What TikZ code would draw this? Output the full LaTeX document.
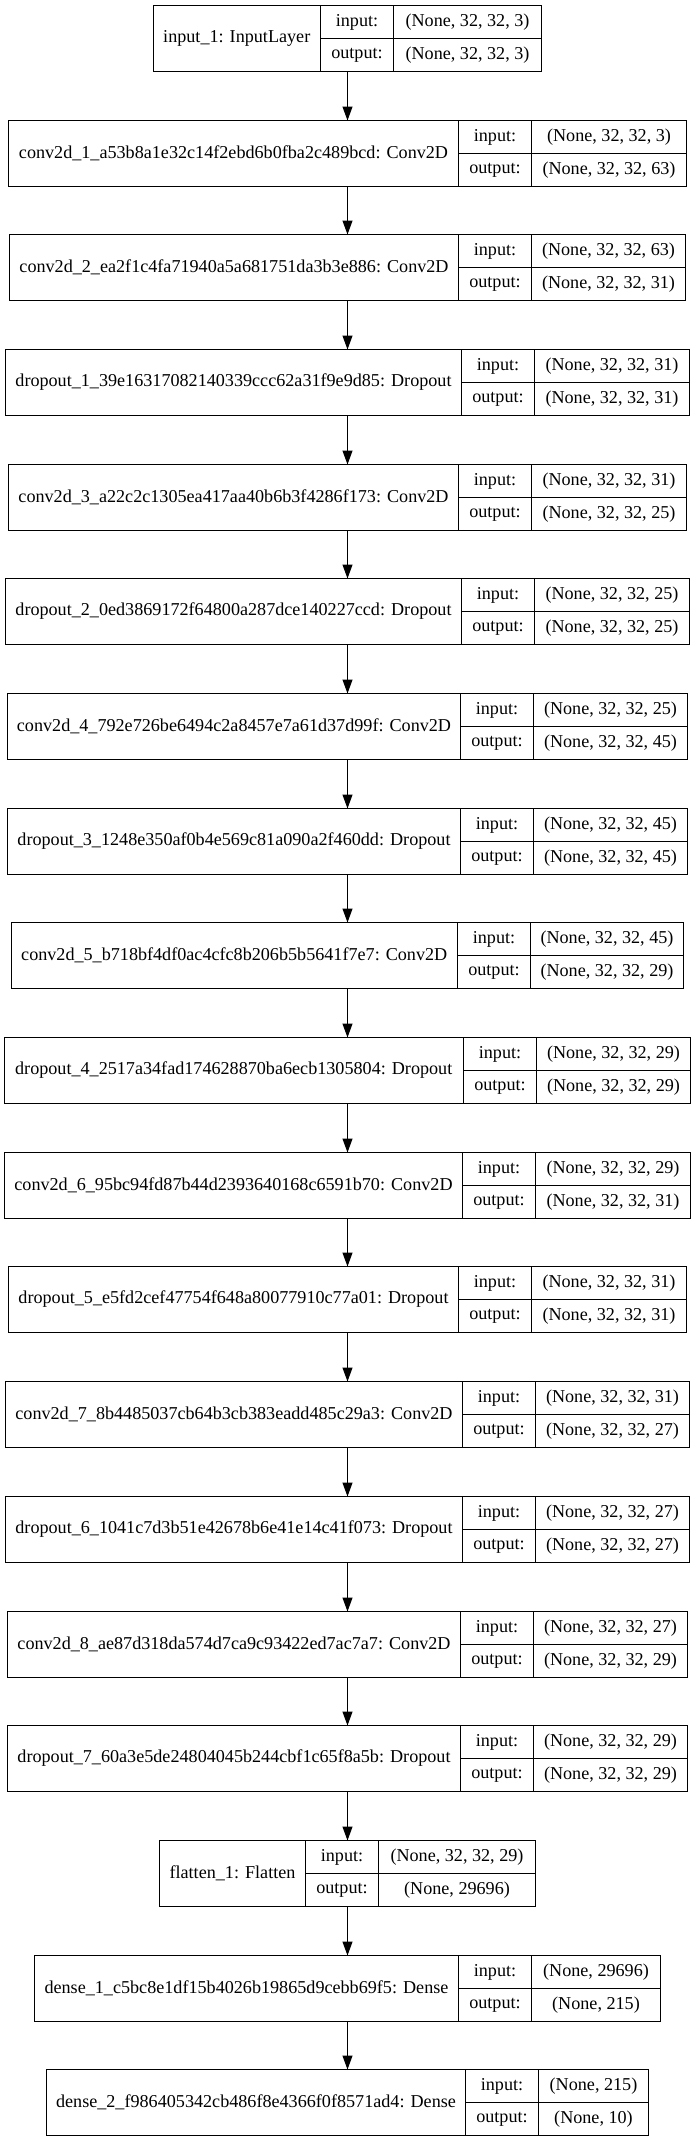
\documentclass[tikz,border=0pt]{standalone}
\usepackage{fontspec}
\setmainfont{Liberation Serif}
\usepackage{tikz}
\usetikzlibrary{arrows.meta}

\tikzset{
  layer/.style={draw, line width=0.8pt, inner sep=0pt, outer sep=0pt, minimum height=49.5pt},
  lbl/.style={inner sep=0pt, font=\fontsize{13.6pt}{16pt}\selectfont},
}

% one record: id, row, name width, value width, name, input, output
\newcommand{\layerbox}[7]{%
  \pgfmathsetmacro{\lyrw}{2*round((#3+73+#4)/2)}%
  \pgfmathsetmacro{\lyrx}{347.5-\lyrw/2}%
  \pgfmathsetmacro{\lyrt}{floor(5.3+114.7*#2)+0.5}%
  \pgfmathsetmacro{\lyry}{\lyrt+33}%
  \pgfmathsetmacro{\lyrsa}{\lyrx+round(#3)}%
  \pgfmathsetmacro{\lyrsb}{\lyrsa+73}%
  \pgfmathsetmacro{\lyrv}{(\lyrx+\lyrw+\lyrsb)/2}%
  \node[layer, minimum width=\lyrw*0.75pt] (#1) at (347.5,\lyry) {};
  \draw[line width=0.8pt] (\lyrsa,\lyry-33) -- (\lyrsa,\lyry+33);
  \draw[line width=0.8pt] (\lyrsb,\lyry-33) -- (\lyrsb,\lyry+33);
  \draw[line width=0.8pt] (\lyrsa,\lyry) -- (\lyrx+\lyrw,\lyry);
  \node[lbl] (#1-name) at (\lyrx+#3/2,\lyry) {#5};
  \node[lbl] (#1-ik) at (\lyrsa+36.5,\lyry-16.5) {input:};
  \node[lbl] (#1-ok) at (\lyrsa+36.5,\lyry+16.5) {output:};
  \node[lbl] (#1-iv) at (\lyrv,\lyry-16.5) {#6};
  \node[lbl] (#1-ov) at (\lyrv,\lyry+16.5) {#7};
}

\begin{document}
\begin{tikzpicture}[x=0.75pt, y=-0.75pt, >={Triangle[length=10.5pt,width=7.5pt]}]
  \useasboundingbox (0,0) rectangle (695,2141);

  \layerbox{in1}{0}{166.5}{147.5}{input\_1: InputLayer}{(None, 32, 32, 3)}{(None, 32, 32, 3)}
  \layerbox{cv1}{1}{450}{154}{conv2d\_1\_a53b8a1e32c14f2ebd6b0fba2c489bcd: Conv2D}{(None, 32, 32, 3)}{(None, 32, 32, 63)}
  \layerbox{cv2}{2}{449}{154}{conv2d\_2\_ea2f1c4fa71940a5a681751da3b3e886: Conv2D}{(None, 32, 32, 63)}{(None, 32, 32, 31)}
  \layerbox{dr1}{3}{456}{154}{dropout\_1\_39e16317082140339ccc62a31f9e9d85: Dropout}{(None, 32, 32, 31)}{(None, 32, 32, 31)}
  \layerbox{cv3}{4}{450}{154}{conv2d\_3\_a22c2c1305ea417aa40b6b3f4286f173: Conv2D}{(None, 32, 32, 31)}{(None, 32, 32, 25)}
  \layerbox{dr2}{5}{456}{154}{dropout\_2\_0ed3869172f64800a287dce140227ccd: Dropout}{(None, 32, 32, 25)}{(None, 32, 32, 25)}
  \layerbox{cv4}{6}{453}{154}{conv2d\_4\_792e726be6494c2a8457e7a61d37d99f: Conv2D}{(None, 32, 32, 25)}{(None, 32, 32, 45)}
  \layerbox{dr3}{7}{453}{154}{dropout\_3\_1248e350af0b4e569c81a090a2f460dd: Dropout}{(None, 32, 32, 45)}{(None, 32, 32, 45)}
  \layerbox{cv5}{8}{445.5}{154}{conv2d\_5\_b718bf4df0ac4cfc8b206b5b5641f7e7: Conv2D}{(None, 32, 32, 45)}{(None, 32, 32, 29)}
  \layerbox{dr4}{9}{458.5}{154}{dropout\_4\_2517a34fad174628870ba6ecb1305804: Dropout}{(None, 32, 32, 29)}{(None, 32, 32, 29)}
  \layerbox{cv6}{10}{458}{154}{conv2d\_6\_95bc94fd87b44d2393640168c6591b70: Conv2D}{(None, 32, 32, 29)}{(None, 32, 32, 31)}
  \layerbox{dr5}{11}{450}{154}{dropout\_5\_e5fd2cef47754f648a80077910c77a01: Dropout}{(None, 32, 32, 31)}{(None, 32, 32, 31)}
  \layerbox{cv7}{12}{457}{154}{conv2d\_7\_8b4485037cb64b3cb383eadd485c29a3: Conv2D}{(None, 32, 32, 31)}{(None, 32, 32, 27)}
  \layerbox{dr6}{13}{457}{154}{dropout\_6\_1041c7d3b51e42678b6e41e14c41f073: Dropout}{(None, 32, 32, 27)}{(None, 32, 32, 27)}
  \layerbox{cv8}{14}{453}{154}{conv2d\_8\_ae87d318da574d7ca9c93422ed7ac7a7: Conv2D}{(None, 32, 32, 27)}{(None, 32, 32, 29)}
  \layerbox{dr7}{15}{453}{154}{dropout\_7\_60a3e5de24804045b244cbf1c65f8a5b: Dropout}{(None, 32, 32, 29)}{(None, 32, 32, 29)}
  \layerbox{fl1}{16}{146}{157}{flatten\_1: Flatten}{(None, 32, 32, 29)}{(None, 29696)}
  \layerbox{ds1}{17}{424}{129}{dense\_1\_c5bc8e1df15b4026b19865d9cebb69f5: Dense}{(None, 29696)}{(None, 215)}
  \layerbox{ds2}{18}{419}{110.5}{dense\_2\_f986405342cb486f8e4366f0f8571ad4: Dense}{(None, 215)}{(None, 10)}

  \draw[->, line width=0.8pt] (in1) -- (cv1);
  \draw[->, line width=0.8pt] (cv1) -- (cv2);
  \draw[->, line width=0.8pt] (cv2) -- (dr1);
  \draw[->, line width=0.8pt] (dr1) -- (cv3);
  \draw[->, line width=0.8pt] (cv3) -- (dr2);
  \draw[->, line width=0.8pt] (dr2) -- (cv4);
  \draw[->, line width=0.8pt] (cv4) -- (dr3);
  \draw[->, line width=0.8pt] (dr3) -- (cv5);
  \draw[->, line width=0.8pt] (cv5) -- (dr4);
  \draw[->, line width=0.8pt] (dr4) -- (cv6);
  \draw[->, line width=0.8pt] (cv6) -- (dr5);
  \draw[->, line width=0.8pt] (dr5) -- (cv7);
  \draw[->, line width=0.8pt] (cv7) -- (dr6);
  \draw[->, line width=0.8pt] (dr6) -- (cv8);
  \draw[->, line width=0.8pt] (cv8) -- (dr7);
  \draw[->, line width=0.8pt] (dr7) -- (fl1);
  \draw[->, line width=0.8pt] (fl1) -- (ds1);
  \draw[->, line width=0.8pt] (ds1) -- (ds2);
\end{tikzpicture}
\end{document}
